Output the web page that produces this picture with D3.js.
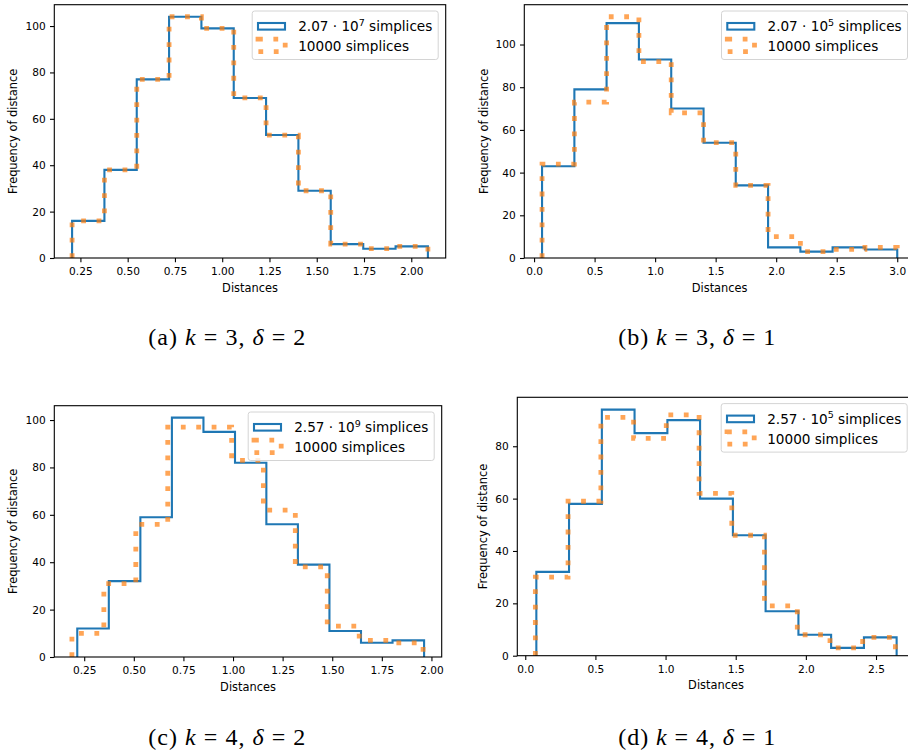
<!DOCTYPE html>
<html>
<head>
<meta charset="utf-8">
<script src="https://cdn.jsdelivr.net/npm/d3@7"></script>
<style>
  body { margin: 0; background: #fff; }
  svg { display: block; }
  .axis text { font-family: "DejaVu Sans", sans-serif; font-size: 10.6px; fill: #000; }
  .axis line { stroke: #000; stroke-width: 1.1; }
  .axis-title { font-family: "DejaVu Sans", sans-serif; font-size: 11.4px; fill: #000; }
  .legend text { font-family: "DejaVu Sans", sans-serif; font-size: 13.6px; fill: #000; }
  .caption { font-family: "Liberation Serif", "Times New Roman", serif; font-size: 24px; fill: #000; }
</style>
</head>
<body>
<svg id="fig" width="908" height="755"></svg>
<script>
// ---- data ----
// (a) k = 3, delta = 2
const edgesA = [0.206, 0.377, 0.548, 0.719, 0.890, 1.061, 1.232, 1.403, 1.574, 1.746, 1.917, 2.088];
const blueA = [16, 38, 77, 104, 99, 69, 53, 29, 6, 4, 5];
const orangeA = [16, 38, 77, 104, 99, 69, 53, 29, 6, 4, 5];

// (b) k = 3, delta = 1
const edgesB = [0.066, 0.333, 0.599, 0.866, 1.133, 1.400, 1.666, 1.933, 2.200, 2.466, 2.733, 3.000];
const blueB = [43, 79, 110, 93, 70, 54, 34, 5, 3, 5, 4];
const orangeB = [44, 73, 113, 92, 68, 54, 34, 10, 3, 4, 5];

// (c) k = 4, delta = 2
const edgesCBlue = [0.215, 0.374, 0.533, 0.692, 0.851, 1.010, 1.168, 1.327, 1.486, 1.645, 1.804, 1.963];
const edgesCOrange = [0.188, 0.349, 0.510, 0.671, 0.832, 0.993, 1.153, 1.314, 1.475, 1.636, 1.797, 1.958];
const blueC = [12, 32, 59, 101, 95, 82, 56, 39, 11, 6, 7];
const orangeC = [10, 31, 56, 97, 97, 83, 62, 38, 13, 7, 6];

// (d) k = 4, delta = 1
const edgesDBlue = [0.079, 0.312, 0.546, 0.779, 1.013, 1.246, 1.480, 1.713, 1.947, 2.180, 2.414, 2.647];
const edgesDOrange = [0.072, 0.305, 0.539, 0.772, 1.005, 1.239, 1.472, 1.705, 1.939, 2.172, 2.405, 2.638];
const blueD = [32, 58, 94, 85, 90, 60, 46, 17, 8, 3, 7];
const orangeD = [30, 59, 91, 83, 92, 62, 46, 19, 8, 3, 7];

// ticks
const xTicksQuarter = [0.25, 0.50, 0.75, 1.00, 1.25, 1.50, 1.75, 2.00];
const xTicksB = [0.0, 0.5, 1.0, 1.5, 2.0, 2.5, 3.0];
const xTicksD = [0.0, 0.5, 1.0, 1.5, 2.0, 2.5];
const yTicks100 = [0, 20, 40, 60, 80, 100];
const yTicks80 = [0, 20, 40, 60, 80];

// labels
const blueLabelA = ["2.07 · 10", "7", " simplices"];
const blueLabelB = ["2.07 · 10", "5", " simplices"];
const blueLabelC = ["2.57 · 10", "9", " simplices"];
const blueLabelD = ["2.57 · 10", "5", " simplices"];
const orangeLabel = "10000 simplices";
const captionA = ["(a) ", "k", " = 3, ", "δ", " = 2"];
const captionB = ["(b) ", "k", " = 3, ", "δ", " = 1"];
const captionC = ["(c) ", "k", " = 4, ", "δ", " = 2"];
const captionD = ["(d) ", "k", " = 4, ", "δ", " = 1"];

const BLUE = "#1f77b4";
const ORANGE = "#ff7f0e";

// ---- layout (absolute pixel boxes of each axes) ----
const panels = [
    { edgesBlue: edgesA, edgesOrange: edgesA, blue: blueA, orange: orangeA, xTicks: xTicksQuarter, fmt: ".2f", yTicks: yTicks100,
      label: blueLabelA, caption: captionA, box: { left: 54.3, right: 445.7, top: 4.7, bottom: 258 }, ylabOff: 37, cap: { x: 148.3, y: 345 } },
    { edgesBlue: edgesB, edgesOrange: edgesB, blue: blueB, orange: orangeB, xTicks: xTicksB, fmt: ".1f", yTicks: yTicks100,
      label: blueLabelB, caption: captionB, box: { left: 524.3, right: 915, top: 4.7, bottom: 258 }, ylabOff: 36.5, cap: { x: 618.3, y: 345 } },
    { edgesBlue: edgesCBlue, edgesOrange: edgesCOrange, blue: blueC, orange: orangeC, xTicks: xTicksQuarter, fmt: ".2f", yTicks: yTicks100,
      label: blueLabelC, caption: captionC, box: { left: 54.3, right: 441.7, top: 405.7, bottom: 657 }, ylabOff: 37, cap: { x: 148.3, y: 745 } },
    { edgesBlue: edgesDBlue, edgesOrange: edgesDOrange, blue: blueD, orange: orangeD, xTicks: xTicksD, fmt: ".1f", yTicks: yTicks80,
      label: blueLabelD, caption: captionD, box: { left: 517.3, right: 914.7, top: 397.3, bottom: 655.7 }, ylabOff: 30, cap: { x: 618.3, y: 745 } }
];

const svg = d3.select("#fig");
svg.append("rect").attr("width", 908).attr("height", 755).attr("fill", "#fff");

// outline of a step histogram (histtype="step")
function stepPoints(edges, counts) {
    const pts = [[edges[0], 0]];
    counts.forEach((c, i) => {
        pts.push([edges[i], c]);
        pts.push([edges[i + 1], c]);
    });
    pts.push([edges[edges.length - 1], 0]);
    return pts;
}

function drawPanel(p) {
    const b = p.box;
    const w = b.right - b.left, h = b.bottom - b.top;

    // matplotlib style autoscale: 5% margins on x, 5% head room on y
    const lo = d3.min([p.edgesBlue[0], p.edgesOrange[0]]);
    const hi = d3.max([p.edgesBlue[p.edgesBlue.length - 1], p.edgesOrange[p.edgesOrange.length - 1]]);
    const pad = (hi - lo) * 0.05;
    const x = d3.scaleLinear().domain([lo - pad, hi + pad]).range([0, w]);
    const ymax = d3.max(p.blue.concat(p.orange)) * 1.05;
    const y = d3.scaleLinear().domain([0, ymax]).range([h, 0]);

    const g = svg.append("g").attr("transform", `translate(${b.left},${b.top})`);

    const line = d3.line().x(d => x(d[0])).y(d => y(d[1]));

    g.append("path")
        .attr("d", line(stepPoints(p.edgesBlue, p.blue)))
        .attr("fill", "none")
        .attr("stroke", BLUE)
        .attr("stroke-width", 2.1)
        .attr("stroke-linejoin", "miter");

    g.append("path")
        .attr("d", line(stepPoints(p.edgesOrange, p.orange)))
        .attr("fill", "none")
        .attr("stroke", ORANGE)
        .attr("stroke-opacity", 0.7)
        .attr("stroke-width", 4.8)
        .attr("stroke-dasharray", "4.8 10.6");

    // axes
    const xAxis = d3.axisBottom(x)
        .tickValues(p.xTicks)
        .tickFormat(d3.format(p.fmt))
        .tickSize(4.3)
        .tickSizeOuter(0)
        .tickPadding(5);
    g.append("g").attr("class", "axis")
        .attr("transform", `translate(0,${h})`)
        .call(xAxis)
        .call(s => s.select(".domain").remove());

    const yAxis = d3.axisLeft(y)
        .tickValues(p.yTicks)
        .tickFormat(d3.format("d"))
        .tickSize(4.3)
        .tickSizeOuter(0)
        .tickPadding(4.3);
    g.append("g").attr("class", "axis")
        .call(yAxis)
        .call(s => s.select(".domain").remove());

    // spines
    g.append("rect")
        .attr("width", w).attr("height", h)
        .attr("fill", "none")
        .attr("stroke", "#000")
        .attr("stroke-width", 1.1);

    g.append("text").attr("class", "axis-title")
        .attr("x", w / 2).attr("y", h + 33.7)
        .attr("text-anchor", "middle")
        .text("Distances");

    g.append("text").attr("class", "axis-title")
        .attr("transform", `translate(${-p.ylabOff},${h / 2})rotate(-90)`)
        .attr("text-anchor", "middle")
        .text("Frequency of distance");

    // legend, upper right
    const lw = 186, lh = 48.5;
    const lg = g.append("g").attr("class", "legend")
        .attr("transform", `translate(${w - 7.5 - lw},${6.3})`);
    lg.append("rect")
        .attr("width", lw).attr("height", lh)
        .attr("rx", 2.5)
        .attr("fill", "#fff").attr("fill-opacity", 0.8)
        .attr("stroke", "#d4d4d4").attr("stroke-width", 1);
    lg.append("rect")
        .attr("x", 5.8).attr("y", 12).attr("width", 27).attr("height", 6.6)
        .attr("fill", "none").attr("stroke", BLUE).attr("stroke-width", 2.1);
    lg.append("path")
        .attr("d", "M5.8,28.2H33V40.6H5.8Z")
        .attr("fill", "none")
        .attr("stroke", ORANGE).attr("stroke-opacity", 0.7)
        .attr("stroke-width", 4.8)
        .attr("stroke-dasharray", "4.8 10.6");

    const t1 = lg.append("text").attr("x", 46).attr("y", 20.3);
    t1.append("tspan").text(p.label[0]);
    t1.append("tspan").attr("dy", -5.6).attr("font-size", "9.5px").text(p.label[1]);
    t1.append("tspan").attr("dy", 5.6).text(p.label[2]);
    lg.append("text").attr("x", 46).attr("y", 40.3).text(orangeLabel);

    // caption under the panel
    const c = svg.append("text").attr("class", "caption")
        .attr("x", p.cap.x).attr("y", p.cap.y)
        .attr("textLength", 157)
        .attr("lengthAdjust", "spacing")
        .attr("xml:space", "preserve");
    p.caption.forEach((part, i) => {
        c.append("tspan")
            .attr("font-style", i % 2 === 1 ? "italic" : "normal")
            .text(part);
    });
}

panels.forEach(drawPanel);
</script>
</body>
</html>
